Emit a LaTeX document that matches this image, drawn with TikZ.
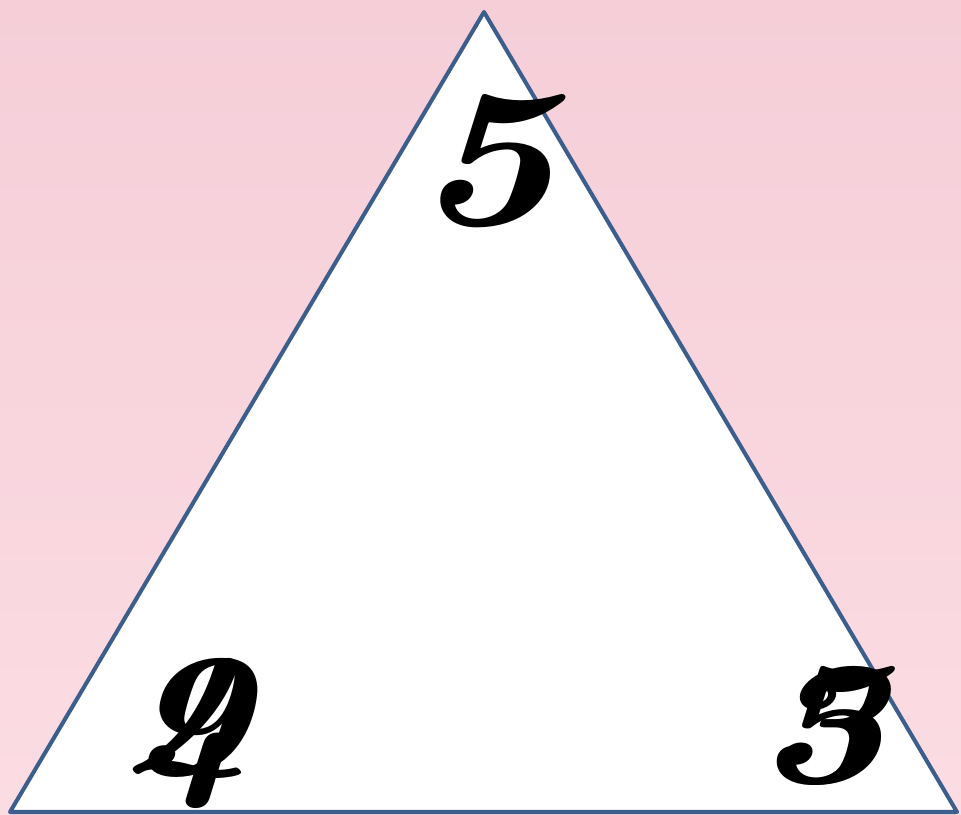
\documentclass[tikz,border=0pt]{standalone}
\usepackage{tikz}
\usepackage{graphicx}
\usetikzlibrary{positioning}
\definecolor{bgpink}{RGB}{252,220,227}
\definecolor{bgpinktop}{RGB}{245,206,216}
\definecolor{edgeblue}{RGB}{60,94,140}
\newcommand{\widedigit}[1]{\scalebox{1.25}[1]{#1}}
\tikzset{
  digit/.style={font=\fontsize{112}{112}\selectfont\bfseries\itshape, inner sep=0pt, anchor=base},
  smalldigit/.style={digit, font=\fontsize{100}{100}\selectfont\bfseries\itshape}
}
\begin{document}
\begin{tikzpicture}[x=0.02cm, y=-0.02cm]
  % background
  \shade[top color=bgpinktop, bottom color=bgpink] (0,0) rectangle (961,815);
  \useasboundingbox (0,0) rectangle (961,815);
  % corners of the triangle
  \coordinate (top) at (484,12);
  \coordinate (left) at (10,812);
  \coordinate (right) at (957,812);
  \filldraw[fill=white, draw=edgeblue, line width=2.3pt, line join=round] (top) -- (left) -- (right) -- cycle;
  % numbers at the corners
  \node[digit] (n5) at (484,224) {\widedigit{5}};
  \node[smalldigit] (n4) at (186,774) {\widedigit{4}};
  \node[smalldigit] (n9) at (186,774) {\widedigit{9}};
  \node[smalldigit] (n3) at (818,782) {\widedigit{3}};
  \node[smalldigit] (n5b) at (822,782) {\widedigit{5}};
\end{tikzpicture}
\end{document}
